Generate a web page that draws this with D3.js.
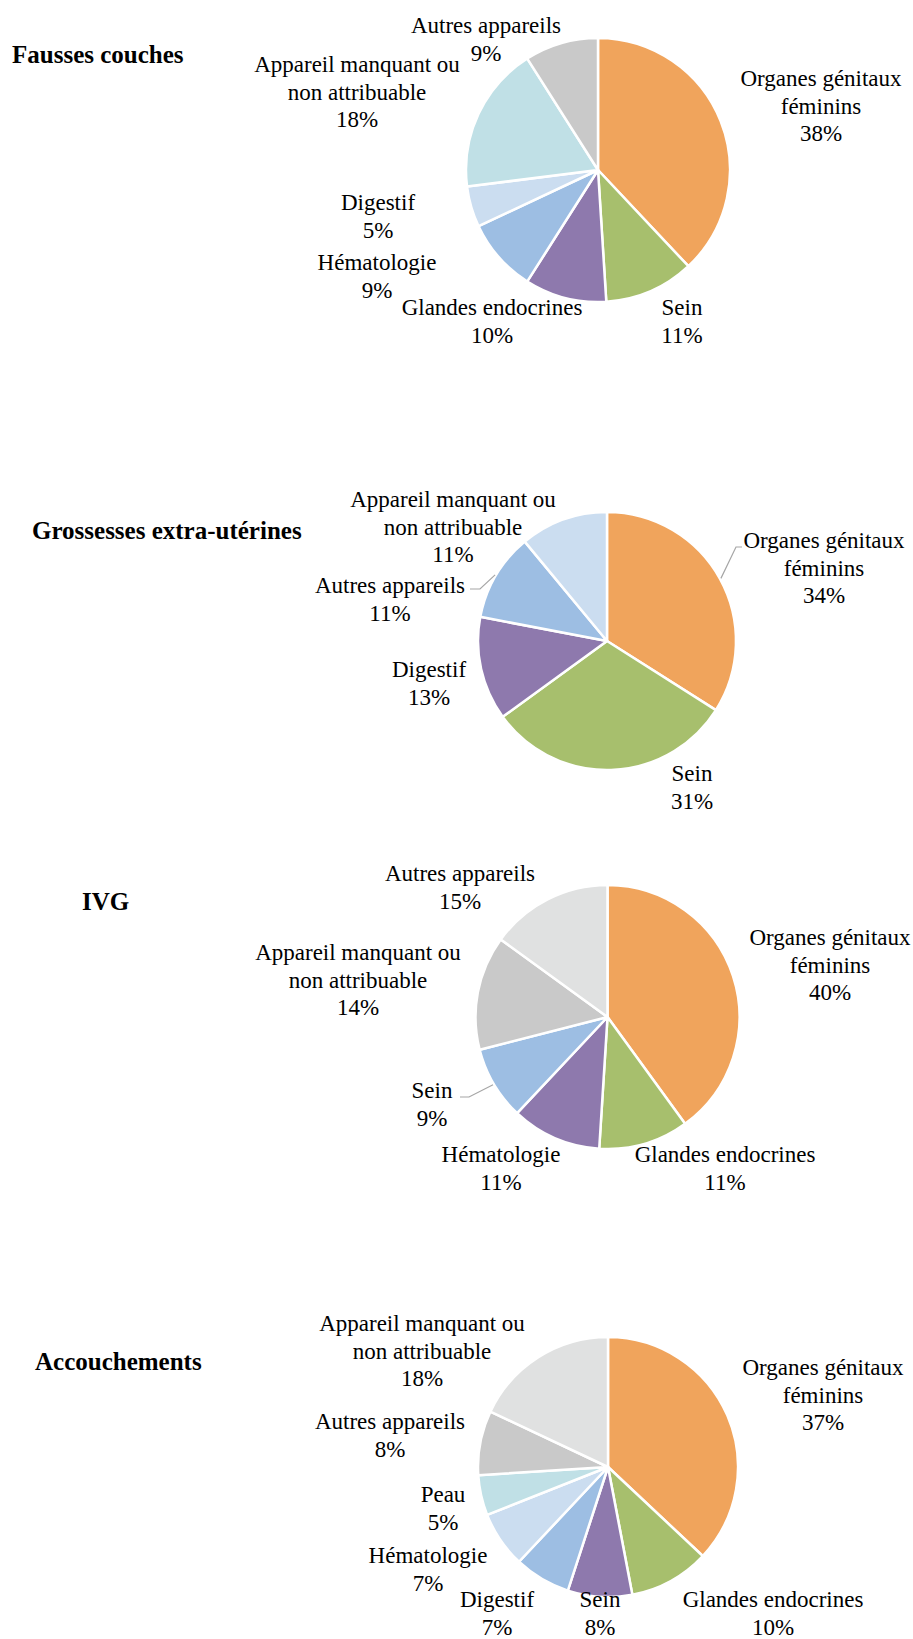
<!DOCTYPE html>
<html lang="fr">
<head>
<meta charset="utf-8">
<script src="https://cdn.jsdelivr.net/npm/d3@7"></script>
<style>
  html, body { margin: 0; padding: 0; background: #fff; }
  svg { display: block; }
  text { font-family: "Liberation Serif", "Times New Roman", serif; fill: #000; }
</style>
</head>
<body>
<svg id="chart" width="913" height="1639"></svg>
<script>
// ---- Data: organ system distribution (%) by pregnancy outcome ----
const fcTitle = "Fausses couches";
const fcCategories = ["Organes génitaux féminins", "Sein", "Glandes endocrines", "Hématologie",
                      "Digestif", "Appareil manquant ou non attribuable", "Autres appareils"];
const fcValues = [38, 11, 10, 9, 5, 18, 9];

const geuTitle = "Grossesses extra-utérines";
const geuCategories = ["Organes génitaux féminins", "Sein", "Digestif", "Autres appareils",
                       "Appareil manquant ou non attribuable"];
const geuValues = [34, 31, 13, 11, 11];

const ivgTitle = "IVG";
const ivgCategories = ["Organes génitaux féminins", "Glandes endocrines", "Hématologie", "Sein",
                       "Appareil manquant ou non attribuable", "Autres appareils"];
const ivgValues = [40, 11, 11, 9, 14, 15];

const accTitle = "Accouchements";
const accCategories = ["Organes génitaux féminins", "Glandes endocrines", "Sein", "Digestif",
                       "Hématologie", "Peau", "Autres appareils", "Appareil manquant ou non attribuable"];
const accValues = [37, 10, 8, 7, 7, 5, 8, 18];

// ---- Styling ----
const C = {
  orange: "#F0A45C", green: "#A7BF6D", purple: "#8E79AD", blue: "#9DBEE3",
  paleBlue: "#CBDDF0", paleCyan: "#C0E0E6", grey: "#C9C9C9", paleGrey: "#E0E1E1"
};
const fcColors  = [C.orange, C.green, C.purple, C.blue, C.paleBlue, C.paleCyan, C.grey];
const geuColors = [C.orange, C.green, C.purple, C.blue, C.paleBlue];
const ivgColors = [C.orange, C.green, C.purple, C.blue, C.grey, C.paleGrey];
const accColors = [C.orange, C.green, C.purple, C.blue, C.paleBlue, C.paleCyan, C.grey, C.paleGrey];

// Long category names are broken over two lines
const wrapLines = {
  "Organes génitaux féminins": ["Organes génitaux", "féminins"],
  "Appareil manquant ou non attribuable": ["Appareil manquant ou", "non attribuable"]
};

// ---- Layout: pie placement, title anchor, label anchors (centre x, first baseline) ----
const layouts = [
  { cx: 598, cy: 170, r: 132, title: [12, 63],
    labels: [[821, 86], [682, 315], [492, 315], [377, 270], [378, 210], [357, 72], [486, 33]],
    leaders: {} },
  { cx: 607, cy: 641, r: 129, title: [32, 539],
    labels: [[824, 548], [692, 781], [429, 677], [390, 593], [453, 507]],
    leaders: { 0: [[736, 547], [742, 547]], 3: [[480, 589], [470, 589]] } },
  { cx: 607.5, cy: 1017, r: 132, title: [82, 910],
    labels: [[830, 945], [725, 1162], [501, 1162], [432, 1098], [358, 960], [460, 881]],
    leaders: { 3: [[469, 1097], [460, 1097]] } },
  { cx: 608, cy: 1467, r: 130, title: [35, 1370],
    labels: [[823, 1375], [773, 1607], [600, 1607], [497, 1607], [428, 1563], [443, 1502], [390, 1429], [422, 1331]],
    leaders: {} }
];

const charts = [
  { title: fcTitle,  cats: fcCategories,  vals: fcValues,  colors: fcColors },
  { title: geuTitle, cats: geuCategories, vals: geuValues, colors: geuColors },
  { title: ivgTitle, cats: ivgCategories, vals: ivgValues, colors: ivgColors },
  { title: accTitle, cats: accCategories, vals: accValues, colors: accColors }
];

const svg = d3.select("#chart");
const LABEL_SIZE = 23, LINE_H = 27.5;

charts.forEach((c, k) => {
  const L = layouts[k];
  const rows = c.cats.map((name, i) => ({ name, value: c.vals[i], i }));
  const color = d3.scaleOrdinal().domain(c.cats).range(c.colors);

  // Title
  svg.append("text")
    .attr("x", L.title[0]).attr("y", L.title[1])
    .attr("font-size", 25).attr("font-weight", "bold")
    .text(c.title);

  const pie = d3.pie().value(d => d.value).sort(null);
  const arcs = pie(rows);
  const arc = d3.arc().innerRadius(0).outerRadius(L.r);

  const g = svg.append("g").attr("transform", `translate(${L.cx},${L.cy})`);
  g.selectAll("path.slice")
    .data(arcs)
    .join("path")
    .attr("class", "slice")
    .attr("d", arc)
    .attr("fill", d => color(d.data.name))
    .attr("stroke", "#fff")
    .attr("stroke-width", 2.5)
    .attr("stroke-linejoin", "round");

  // Leader lines from the slice edge to the label
  arcs.forEach(a => {
    const pts = L.leaders[a.data.i];
    if (!pts) return;
    const mid = (a.startAngle + a.endAngle) / 2;
    const start = [L.cx + (L.r + 1) * Math.sin(mid), L.cy - (L.r + 1) * Math.cos(mid)];
    svg.append("path")
      .attr("d", d3.line()([start, ...pts]))
      .attr("fill", "none")
      .attr("stroke", "#A6A6A6")
      .attr("stroke-width", 1.2);
  });

  // Category + percentage labels
  arcs.forEach(a => {
    const [x, y] = L.labels[a.data.i];
    const lines = (wrapLines[a.data.name] || [a.data.name]).concat([`${a.data.value}%`]);
    const t = svg.append("text")
      .attr("x", x).attr("y", y)
      .attr("font-size", LABEL_SIZE)
      .attr("text-anchor", "middle");
    lines.forEach((ln, j) => {
      t.append("tspan").attr("x", x).attr("y", y + j * LINE_H).text(ln);
    });
  });
});
</script>
</body>
</html>
